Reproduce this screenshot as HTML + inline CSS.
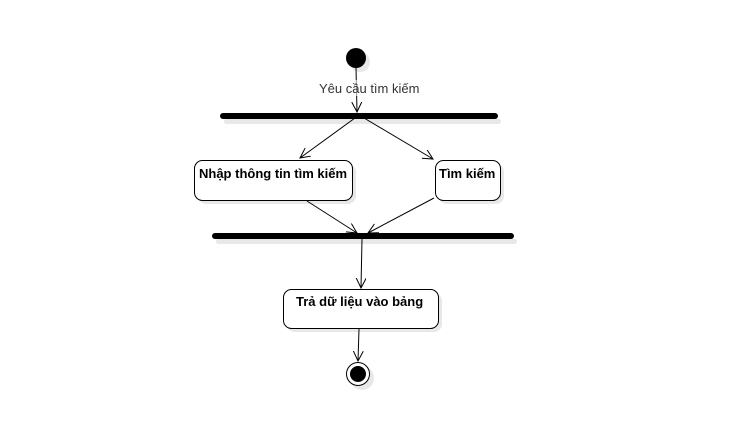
<!DOCTYPE html>
<html><head><meta charset="utf-8"><style>
body{margin:0;background:#fff}
text{font-family:"Liberation Sans",sans-serif;font-size:13px}
</style></head><body>
<svg width="752" height="441" viewBox="0 0 752 441" xmlns="http://www.w3.org/2000/svg">
<defs><marker id="a" markerWidth="12" markerHeight="12" refX="10" refY="5" orient="auto" markerUnits="userSpaceOnUse"><path d="M0,0 L10,5 L0,10" fill="none" stroke="#000" stroke-width="1"/></marker></defs>
<g fill="#e8e8e8">
<circle cx="360" cy="62" r="10"/>
<rect x="224" y="119" width="277" height="5" rx="2.5"/>
<rect x="198" y="164" width="158" height="40" rx="8"/>
<rect x="439" y="164" width="65" height="40" rx="8"/>
<rect x="216" y="239" width="301" height="5" rx="2.5"/>
<rect x="287" y="293" width="155" height="39" rx="8"/>
<circle cx="362" cy="378" r="12"/>
</g>
<circle cx="356" cy="58" r="10" fill="#000"/>
<line x1="223" y1="116" x2="495" y2="116" stroke="#000" stroke-width="6" stroke-linecap="round"/>
<line x1="215" y1="236" x2="511" y2="236" stroke="#000" stroke-width="6" stroke-linecap="round"/>
<rect x="194.5" y="160.5" width="158" height="40" rx="8" fill="#fff" stroke="#000"/>
<rect x="435.5" y="160.5" width="65" height="40" rx="8" fill="#fff" stroke="#000"/>
<rect x="283.5" y="289.5" width="155" height="39" rx="8" fill="#fff" stroke="#000"/>
<circle cx="358" cy="374" r="11.5" fill="#fff" stroke="#000"/>
<circle cx="358" cy="374" r="8" fill="#000"/>
<g stroke="#000" stroke-width="1" fill="none" marker-end="url(#a)">
<line x1="356" y1="68" x2="357" y2="112"/>
<line x1="355" y1="118" x2="300" y2="158"/>
<line x1="364" y1="118" x2="433" y2="159"/>
<line x1="307" y1="201" x2="357" y2="233"/>
<line x1="434" y1="198" x2="368" y2="233"/>
<line x1="362" y1="239" x2="361" y2="288"/>
<line x1="359" y1="329" x2="358" y2="361"/>
</g>
<rect x="318" y="80" width="104" height="16" fill="#fff" opacity="0.6"/>
<text x="319" y="93" fill="#333" font-size="12.5">Yêu cầu tìm kiếm</text>
<text x="199" y="178" font-weight="bold">Nhập thông tin tìm kiếm</text>
<text x="439" y="178" font-weight="bold">Tìm kiếm</text>
<text x="296" y="306" font-weight="bold">Trả dữ liệu vào bảng</text>
</svg>
</body></html>
